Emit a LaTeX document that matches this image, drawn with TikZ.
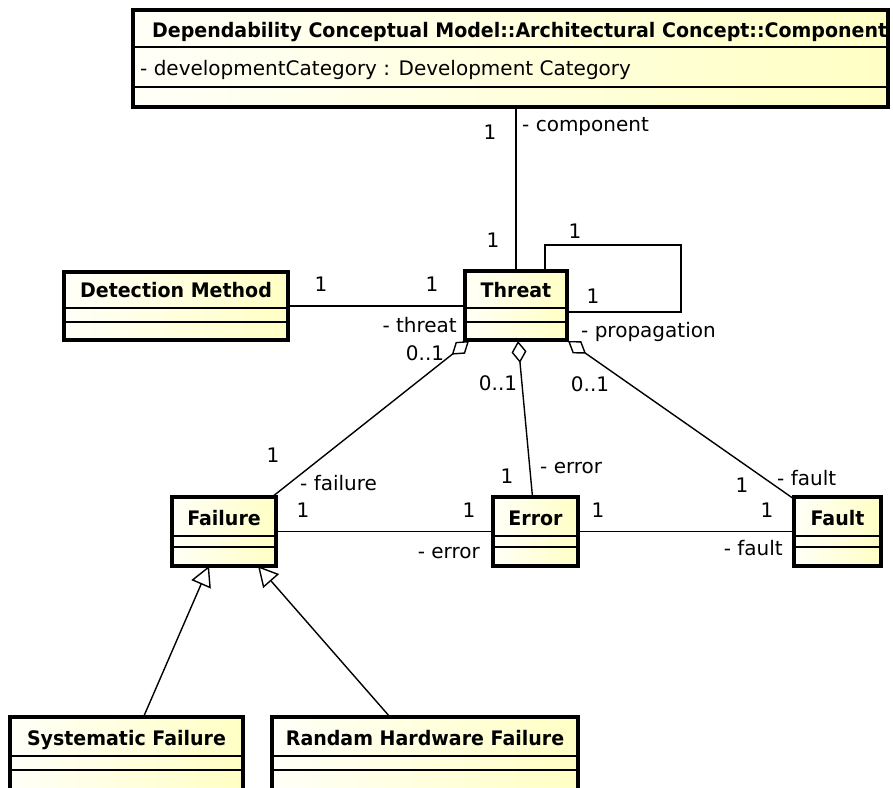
\documentclass[tikz,border=0pt]{standalone}
\usepackage{fontspec}
\setmainfont{DejaVu Sans}
\newfontfamily\ttlfont{DejaVu Sans}[FakeStretch=0.95]
\usetikzlibrary{arrows.meta,calc}
\definecolor{clsL}{RGB}{255,255,248}
\definecolor{clsR}{RGB}{255,255,196}
\tikzset{
 classbox/.style={draw=black, line width=3.8pt, left color=clsL, right color=clsR, rectangle, inner sep=0pt, outer sep=0pt},
 divider/.style={draw=black, line width=1.5pt},
 classtitle/.style={font={\ttlfont\bfseries\fontsize{20}{24}\selectfont}, inner sep=0pt, anchor=base},
 lbl/.style={font={\fontsize{20}{24}\selectfont}, inner sep=0pt, anchor=base},
 assoc/.style={draw=black, line width=1.4pt},
 aggr/.style={assoc, {Diamond[open, length=22pt, width=15pt]}-},
 gener/.style={assoc, -{Triangle[open, length=20pt, width=21pt]}},
}
% name, outer x1, y1, x2, y2, divider1, divider2, title
\newcommand{\umlclass}[8]{%
 \node[classbox, minimum width={#4-#2-4}, minimum height={#5-#3-4}, anchor=north west] (#1) at ({#2+2},{#3+2}) {};
 \draw[divider] ({#2+2},#6) -- ({#4-2},#6);
 \draw[divider] ({#2+2},#7) -- ({#4-2},#7);
 \node[classtitle] at ({(#2+#4)/2},{#6-11}) {#8};
}
\begin{document}
\begin{tikzpicture}[x=1pt,y=-1pt]
\useasboundingbox (0,0) rectangle (893,787);

\umlclass{comp}{131}{8}{890}{109}{47}{87}{}
\node[classtitle, anchor=base west] (comptitle) at (152,37) {Dependability Conceptual Model::Architectural Concept::Component};
\node[lbl, anchor=base west] (compattr) at (140,75) {- developmentCategory : Development Category};
\umlclass{threat}{463}{269}{569}{342}{308}{322}{Threat}
\umlclass{dm}{62}{270}{290}{342}{308}{322}{Detection Method}
\umlclass{failure}{170}{495}{278}{568}{536}{547}{Failure}
\umlclass{error}{491}{495}{580}{568}{536}{547}{Error}
\umlclass{fault}{792}{495}{883}{568}{536}{547}{Fault}
\umlclass{sys}{8}{715}{245}{800}{756}{770}{Systematic Failure}
\umlclass{rhf}{270}{715}{580}{800}{756}{770}{Randam Hardware Failure}

% component - threat
\draw[assoc] (threat.north) -- (threat.north |- comp.south);
\node[lbl] (l1) at (490,139) {1};
\node[lbl, anchor=base west] (l2) at (522,131) {- component};
\node[lbl] (l3) at (493,247) {1};

% self loop
\coordinate (loopA) at (681,245);
\coordinate (loopB) at (681,312);
\draw[assoc] ($(threat.north)+(29,0)$) |- (loopA) -- (loopB) -- (loopB -| threat.east);
\node[lbl] (l4) at (575,238) {1};
\node[lbl] (l5) at (593,303) {1};
\node[lbl, anchor=base west] (l6) at (581,337) {- propagation};

% detection method - threat
\draw[assoc] (dm.east) -- (dm.east -| threat.west);
\node[lbl] (l7) at (321,291) {1};
\node[lbl] (l8) at (432,291) {1};
\node[lbl, anchor=base east] (l9) at (457,332) {- threat};

% aggregations
\draw[aggr] ($(threat.south west)+(4,1)$) -- ($(failure.north east)+(-4,0)$);
\draw[aggr] ($(threat.south)+(2,1)$) -- ($(error.north)+(-3,0)$);
\draw[aggr] ($(threat.south east)+(1,1)$) -- ($(fault.north west)+(0,2)$);
\node[lbl] (l10) at (425,360) {0..1};
\node[lbl] (l11) at (498,390) {0..1};
\node[lbl] (l12) at (590,391) {0..1};
\node[lbl] (l13) at (273,462) {1};
\node[lbl, anchor=base west] (l14) at (300,490) {- failure};
\node[lbl] (l15) at (507,483) {1};
\node[lbl, anchor=base west] (l16) at (540,473) {- error};
\node[lbl] (l17) at (742,492) {1};
\node[lbl, anchor=base west] (l18) at (777,485) {- fault};

% failure - error - fault
\draw[assoc] (failure.east) -- (error.west);
\draw[assoc] (error.east) -- (fault.west);
\node[lbl] (l19) at (303,517) {1};
\node[lbl] (l20) at (469,517) {1};
\node[lbl, anchor=base east] (l21) at (480,558) {- error};
\node[lbl] (l22) at (598,517) {1};
\node[lbl] (l23) at (767,517) {1};
\node[lbl, anchor=base east] (l24) at (783,555) {- fault};

% generalizations
\draw[gener] ($(sys.north)+(17,0)$) -- ($(failure.south)+(-15,0)$);
\draw[gener] ($(rhf.north)+(-35,0)$) -- ($(failure.south)+(34,0)$);
\end{tikzpicture}
\end{document}
